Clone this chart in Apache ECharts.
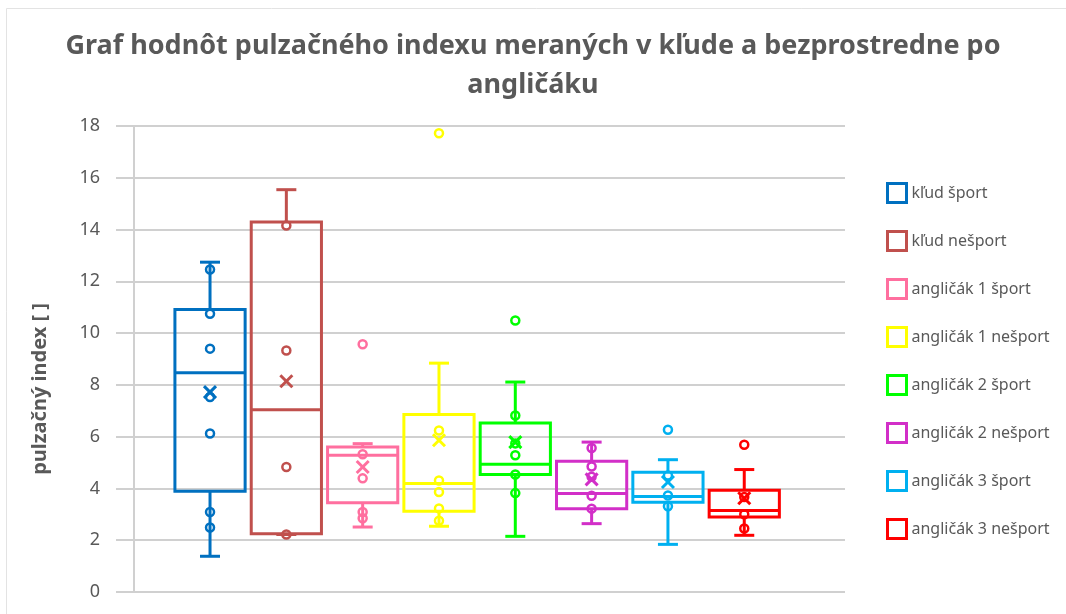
<!DOCTYPE html>
<html>
<head>
<meta charset="utf-8">
<script src="https://cdn.jsdelivr.net/npm/echarts@6/dist/echarts.min.js"></script>
<style>
  html, body { margin: 0; padding: 0; background: #fff; }
  #chart { width: 1066px; height: 614px; }
</style>
</head>
<body>
<div id="chart"></div>
<script>
// skupiny merania
var groupNames = ['kľud šport', 'kľud nešport', 'angličák 1 šport', 'angličák 1 nešport',
                  'angličák 2 šport', 'angličák 2 nešport', 'angličák 3 šport', 'angličák 3 nešport'];
var colors = ['#0070C0', '#C0504D', '#FF6F9F', '#FFFF00', '#00FF00', '#D22FC8', '#00B0F0', '#FF0000'];

// statistiky boxov
var whiskerLow  = [1.38, 2.22, 2.51, 2.54, 2.15, 2.64, 1.84, 2.19];
var q1          = [3.89, 2.25, 3.45, 3.12, 4.54, 3.22, 3.47, 2.90];
var median      = [8.47, 7.04, 5.28, 4.19, 4.93, 3.80, 3.69, 3.15];
var q3          = [10.91, 14.29, 5.60, 6.86, 6.53, 5.05, 4.63, 3.93];
var whiskerHigh = [12.74, 15.54, 5.73, 8.84, 8.11, 5.79, 5.11, 4.73];
var means       = [7.72, 8.14, 4.83, 5.86, 5.79, 4.35, 4.25, 3.62];

// zobrazene body (vnutorne aj odlahle)
var points = [
    [12.46, 10.75, 9.40, 7.53, 6.12, 3.09, 2.49],
    [14.16, 9.33, 4.83, 2.22],
    [9.57, 5.32, 4.39, 3.09, 2.85],
    [17.72, 6.24, 4.31, 3.86, 3.23, 2.75],
    [10.49, 6.82, 5.74, 5.28, 4.54, 3.82],
    [5.56, 4.85, 4.45, 3.72, 3.22],
    [6.27, 4.50, 3.73, 3.31],
    [5.69, 3.67, 3.00, 2.45]
];

var yTicks = [0, 2, 4, 6, 8, 10, 12, 14, 16, 18];

var textColor = '#595959';
var myChart = echarts.init(document.getElementById('chart'));

function renderBox(params, api) {
    var x = api.value(0);
    var color = api.visual('color');
    var halfW = api.size([0.92, 0])[0] / 2;
    var capW = 10;
    var pLow = api.coord([x, api.value(1)]);
    var pQ1 = api.coord([x, api.value(2)]);
    var pMed = api.coord([x, api.value(3)]);
    var pQ3 = api.coord([x, api.value(4)]);
    var pHigh = api.coord([x, api.value(5)]);
    var pMean = api.coord([x, api.value(6)]);
    var cx = pMed[0];
    var st = { stroke: color, lineWidth: 3, fill: null };
    var m = 6;
    return {
        type: 'group',
        children: [
            { type: 'line', shape: { x1: cx, y1: pQ3[1], x2: cx, y2: pHigh[1] }, style: st },
            { type: 'line', shape: { x1: cx - capW, y1: pHigh[1], x2: cx + capW, y2: pHigh[1] }, style: st },
            { type: 'line', shape: { x1: cx, y1: pQ1[1], x2: cx, y2: pLow[1] }, style: st },
            { type: 'line', shape: { x1: cx - capW, y1: pLow[1], x2: cx + capW, y2: pLow[1] }, style: st },
            { type: 'rect', shape: { x: cx - halfW, y: pQ3[1], width: halfW * 2, height: pQ1[1] - pQ3[1] }, style: st },
            { type: 'line', shape: { x1: cx - halfW, y1: pMed[1], x2: cx + halfW, y2: pMed[1] }, style: st },
            { type: 'line', shape: { x1: cx - m, y1: pMean[1] - m, x2: cx + m, y2: pMean[1] + m }, style: st },
            { type: 'line', shape: { x1: cx - m, y1: pMean[1] + m, x2: cx + m, y2: pMean[1] - m }, style: st }
        ]
    };
}

var series = [];
groupNames.forEach(function (name, i) {
    series.push({
        name: name,
        type: 'custom',
        renderItem: renderBox,
        itemStyle: { color: colors[i] },
        encode: { x: 0, y: [1, 2, 3, 4, 5, 6] },
        data: [[i + 1, whiskerLow[i], q1[i], median[i], q3[i], whiskerHigh[i], means[i]]],
        z: 2
    });
});
groupNames.forEach(function (name, i) {
    series.push({
        name: name,
        type: 'scatter',
        symbol: 'circle',
        symbolSize: 8,
        itemStyle: { color: 'rgba(0,0,0,0)', borderColor: colors[i], borderWidth: 2.5, opacity: 1 },
        data: points[i].map(function (v) { return [i + 1, v]; }),
        z: 3
    });
});

var option = {
    backgroundColor: '#ffffff',
    animation: false,
    title: {
        text: 'Graf hodnôt pulzačného indexu meraných v kľude a bezprostredne po\nangličáku',
        left: 'center',
        top: 22,
        textStyle: {
            fontFamily: 'Noto Sans',
            fontSize: 27,
            fontWeight: 'bold',
            color: textColor,
            lineHeight: 39
        }
    },
    graphic: [{
        type: 'rect',
        shape: { x: 6.5, y: 8.5, width: 1100, height: 700 },
        style: { fill: null, stroke: '#e3e3e3', lineWidth: 1 },
        silent: true
    }],
    legend: {
        orient: 'vertical',
        left: 881,
        top: 177,
        itemWidth: 19,
        itemHeight: 19,
        itemGap: 26,
        textStyle: { fontFamily: 'Noto Sans', fontSize: 16, lineHeight: 19, color: textColor },
        data: groupNames.map(function (n, i) {
            return { name: n, icon: 'rect', itemStyle: { color: '#ffffff', borderColor: colors[i], borderWidth: 3 } };
        })
    },
    grid: { left: 116, right: 221, top: 126, bottom: 22 },
    xAxis: {
        type: 'value',
        min: -0.232,
        max: 9.32,
        show: false
    },
    yAxis: {
        type: 'value',
        min: yTicks[0],
        max: yTicks[yTicks.length - 1],
        interval: 2,
        name: 'pulzačný index [ ]',
        nameLocation: 'middle',
        nameGap: 66,
        nameTextStyle: { fontFamily: 'Noto Sans', fontSize: 20, fontWeight: 'bold', color: textColor, padding: [0, 60, 0, 0] },
        axisLine: { show: true, lineStyle: { color: '#d0d0d0', width: 2 } },
        axisTick: { show: false },
        axisLabel: { fontFamily: 'Noto Sans', fontSize: 18, color: textColor, margin: 16 },
        splitLine: { show: true, lineStyle: { color: '#d0d0d0', width: 2 } }
    },
    series: series
};

myChart.setOption(option);
window.addEventListener('resize', function () { myChart.resize(); });
</script>
</body>
</html>
